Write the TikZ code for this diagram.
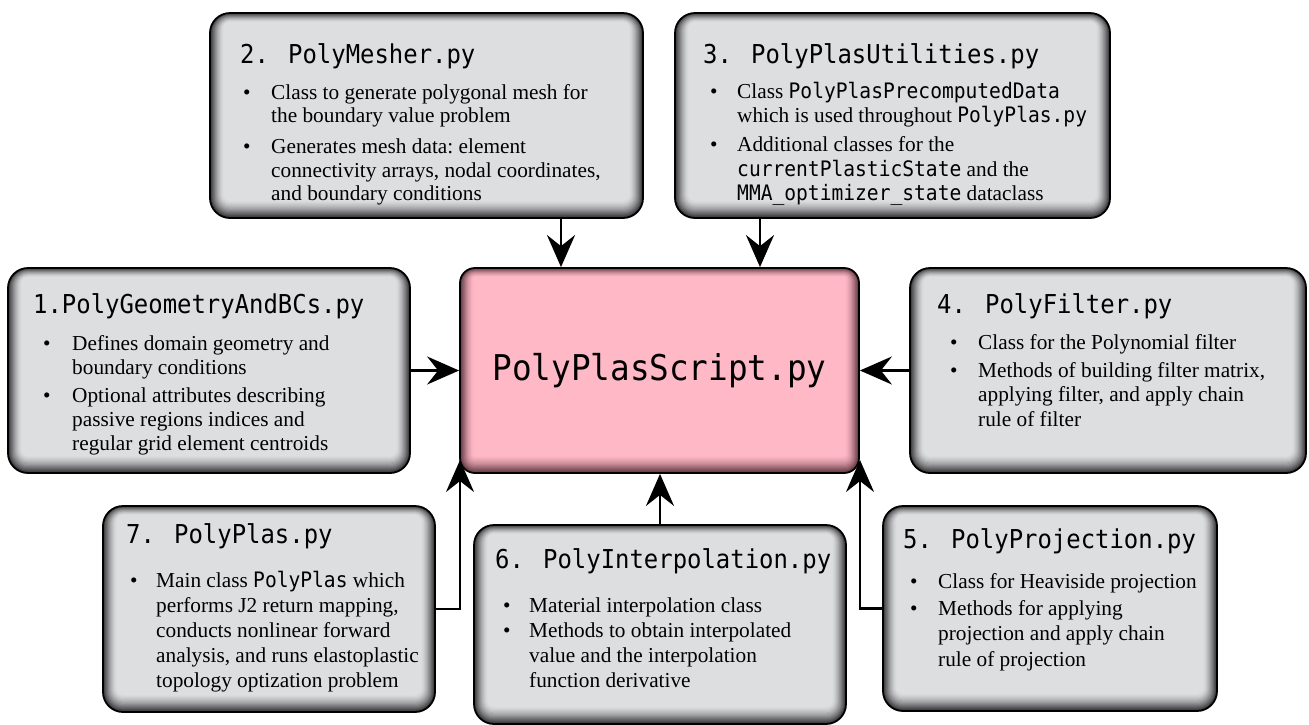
\documentclass[tikz,border=0pt]{standalone}
\usepackage{fontspec}
\setmainfont{Liberation Serif}
\newfontfamily\monofont[FakeStretch=0.92]{DejaVu Sans Mono}
\usetikzlibrary{arrows.meta}
\definecolor{gdark}{RGB}{50,50,52}
\definecolor{glight}{RGB}{221,222,224}
\definecolor{pdark}{RGB}{95,55,65}
\definecolor{plight}{RGB}{255,184,198}
\newlength\bulind
\newcommand\mon[1]{{\monofont #1}}
\newcommand\bitem[1]{\par\noindent\hangindent=\bulind\hangafter=1\makebox[\bulind][l]{\textbullet}#1\par}
\newcommand\bodybox[4]{\begin{minipage}[t]{420pt}\parindent=0pt\frenchspacing\fontsize{21.3}{#1}\selectfont\setlength\bulind{#3}\def\bgap{\par\vspace{#2}}#4\end{minipage}}
\newcommand\innershade[3]{%
  \foreach \i in {1,...,15}{%
    \pgfmathsetmacro\pp{100*(1-\i/15)^1.5}%
    \pgfmathsetmacro\rr{max(#3-0.9*\i,2)}%
    \fill[draw=none, color=#1!\pp!#2, rounded corners=\rr pt]
      ([shift={(0.9*\i pt,-0.6*\i pt)}]path picture bounding box.north west) rectangle
      ([shift={(-0.9*\i pt,1.15*\i pt)}]path picture bounding box.south east);
  }}
\tikzset{
  gbox/.style={rectangle, rounded corners=20pt, draw=black, line width=1.8pt, fill=gdark,
    path picture={\innershade{gdark}{glight}{20}}},
  pbox/.style={rectangle, rounded corners=15pt, draw=black, line width=1.8pt, fill=pdark,
    path picture={\innershade{pdark}{plight}{15}}, font=\monofont\fontsize{35.5}{40}\selectfont},
  ttl/.style={anchor=base west, inner sep=0pt, font=\monofont\fontsize{26}{30}\selectfont},
  bod/.style={anchor=base west, inner sep=0pt},
  arr/.style={line width=2.6pt, -{Stealth[length=32pt,width=28pt,inset=11pt]}},
}
\begin{document}
\begin{tikzpicture}[x=1pt,y=-1pt]
\useasboundingbox (0,0) rectangle (1309,724);
% boxes
\node[gbox, minimum width=433pt, minimum height=205pt] (B2) at (426.5,115.5) {};
\node[gbox, minimum width=435pt, minimum height=205pt] (B3) at (892.5,115.5) {};
\node[gbox, minimum width=402pt, minimum height=205pt] (B1) at (209,370.5) {};
\node[pbox, minimum width=399pt, minimum height=205pt] (C) at (659.5,370.5) {PolyPlasScript.py};
\node[gbox, minimum width=396pt, minimum height=205pt] (B4) at (1108,370.5) {};
\node[gbox, minimum width=332pt, minimum height=206pt] (B7) at (269,609) {};
\node[gbox, minimum width=372pt, minimum height=199pt] (B6) at (660,624.5) {};
\node[gbox, minimum width=334pt, minimum height=205pt] (B5) at (1050,608.5) {};
% titles
\node[ttl] (t2) at (240,63) {2. PolyMesher.py};
\node[ttl] (t3) at (703,63) {3. PolyPlasUtilities.py};
\node[ttl] (t1) at (33,313) {1.PolyGeometryAndBCs.py};
\node[ttl] (t4) at (937,313) {4. PolyFilter.py};
\node[ttl] (t7) at (126,543) {7. PolyPlas.py};
\node[ttl] (t6) at (495,568) {6. PolyInterpolation.py};
\node[ttl] (t5) at (903,548) {5. PolyProjection.py};
% bodies
\node[bod] (b2) at (243,99) {\bodybox{23.5pt}{7.5pt}{28pt}{%
  \bitem{Class to generate polygonal mesh for\\the boundary value problem}\bgap
  \bitem{Generates mesh data: element\\connectivity arrays, nodal coordinates,\\and boundary conditions}}};
\node[bod] (b3) at (710,98) {\bodybox{24.5pt}{4.5pt}{27pt}{%
  \bitem{Class \mon{PolyPlasPrecomputedData}\\which is used throughout \mon{PolyPlas.py}}\bgap
  \bitem{Additional classes for the\\\mon{currentPlasticState} and the\\\mon{MMA\_optimizer\_state} dataclass}}};
\node[bod] (b1) at (43,350) {\bodybox{24pt}{4pt}{29pt}{%
  \bitem{Defines domain geometry and\\boundary conditions}\bgap
  \bitem{Optional attributes describing\\passive regions indices and\\regular grid element centroids}}};
\node[bod] (b4) at (950,349) {\bodybox{24.5pt}{3.5pt}{28pt}{%
  \bitem{Class for the Polynomial filter}\bgap
  \bitem{Methods of building filter matrix,\\applying filter, and apply chain\\rule of filter}}};
\node[bod] (b7) at (130,587) {\bodybox{25.2pt}{0pt}{26pt}{%
  \bitem{Main class \mon{PolyPlas} which\\performs J2 return mapping,\\conducts nonlinear forward\\analysis, and runs elastoplastic\\topology optization problem}}};
\node[bod] (b6) at (503,612) {\bodybox{25pt}{0pt}{26pt}{%
  \bitem{Material interpolation class}\bgap
  \bitem{Methods to obtain interpolated\\value and the interpolation\\function derivative}}};
\node[bod] (b5) at (910,588) {\bodybox{25.5pt}{1.5pt}{28pt}{%
  \bitem{Class for Heaviside projection}\bgap
  \bitem{Methods for applying\\projection and apply chain\\rule of projection}}};
% connectors
\coordinate (x2) at (561,0);
\coordinate (x3) at (760,0);
\coordinate (cl) at (460,460);
\coordinate (cr) at (860,460);
\draw[arr] (B2.south -| x2) -- (C.north -| x2);
\draw[arr] (B3.south -| x3) -- (C.north -| x3);
\draw[arr] (B1.east) -- (C.west);
\draw[arr] (B4.west) -- (C.east);
\draw[arr] (B7.east) -| (cl);
\draw[arr] (B5.west) -| (cr);
\draw[arr] (B6.north) -- (B6.north |- C.south);
\end{tikzpicture}
\end{document}
